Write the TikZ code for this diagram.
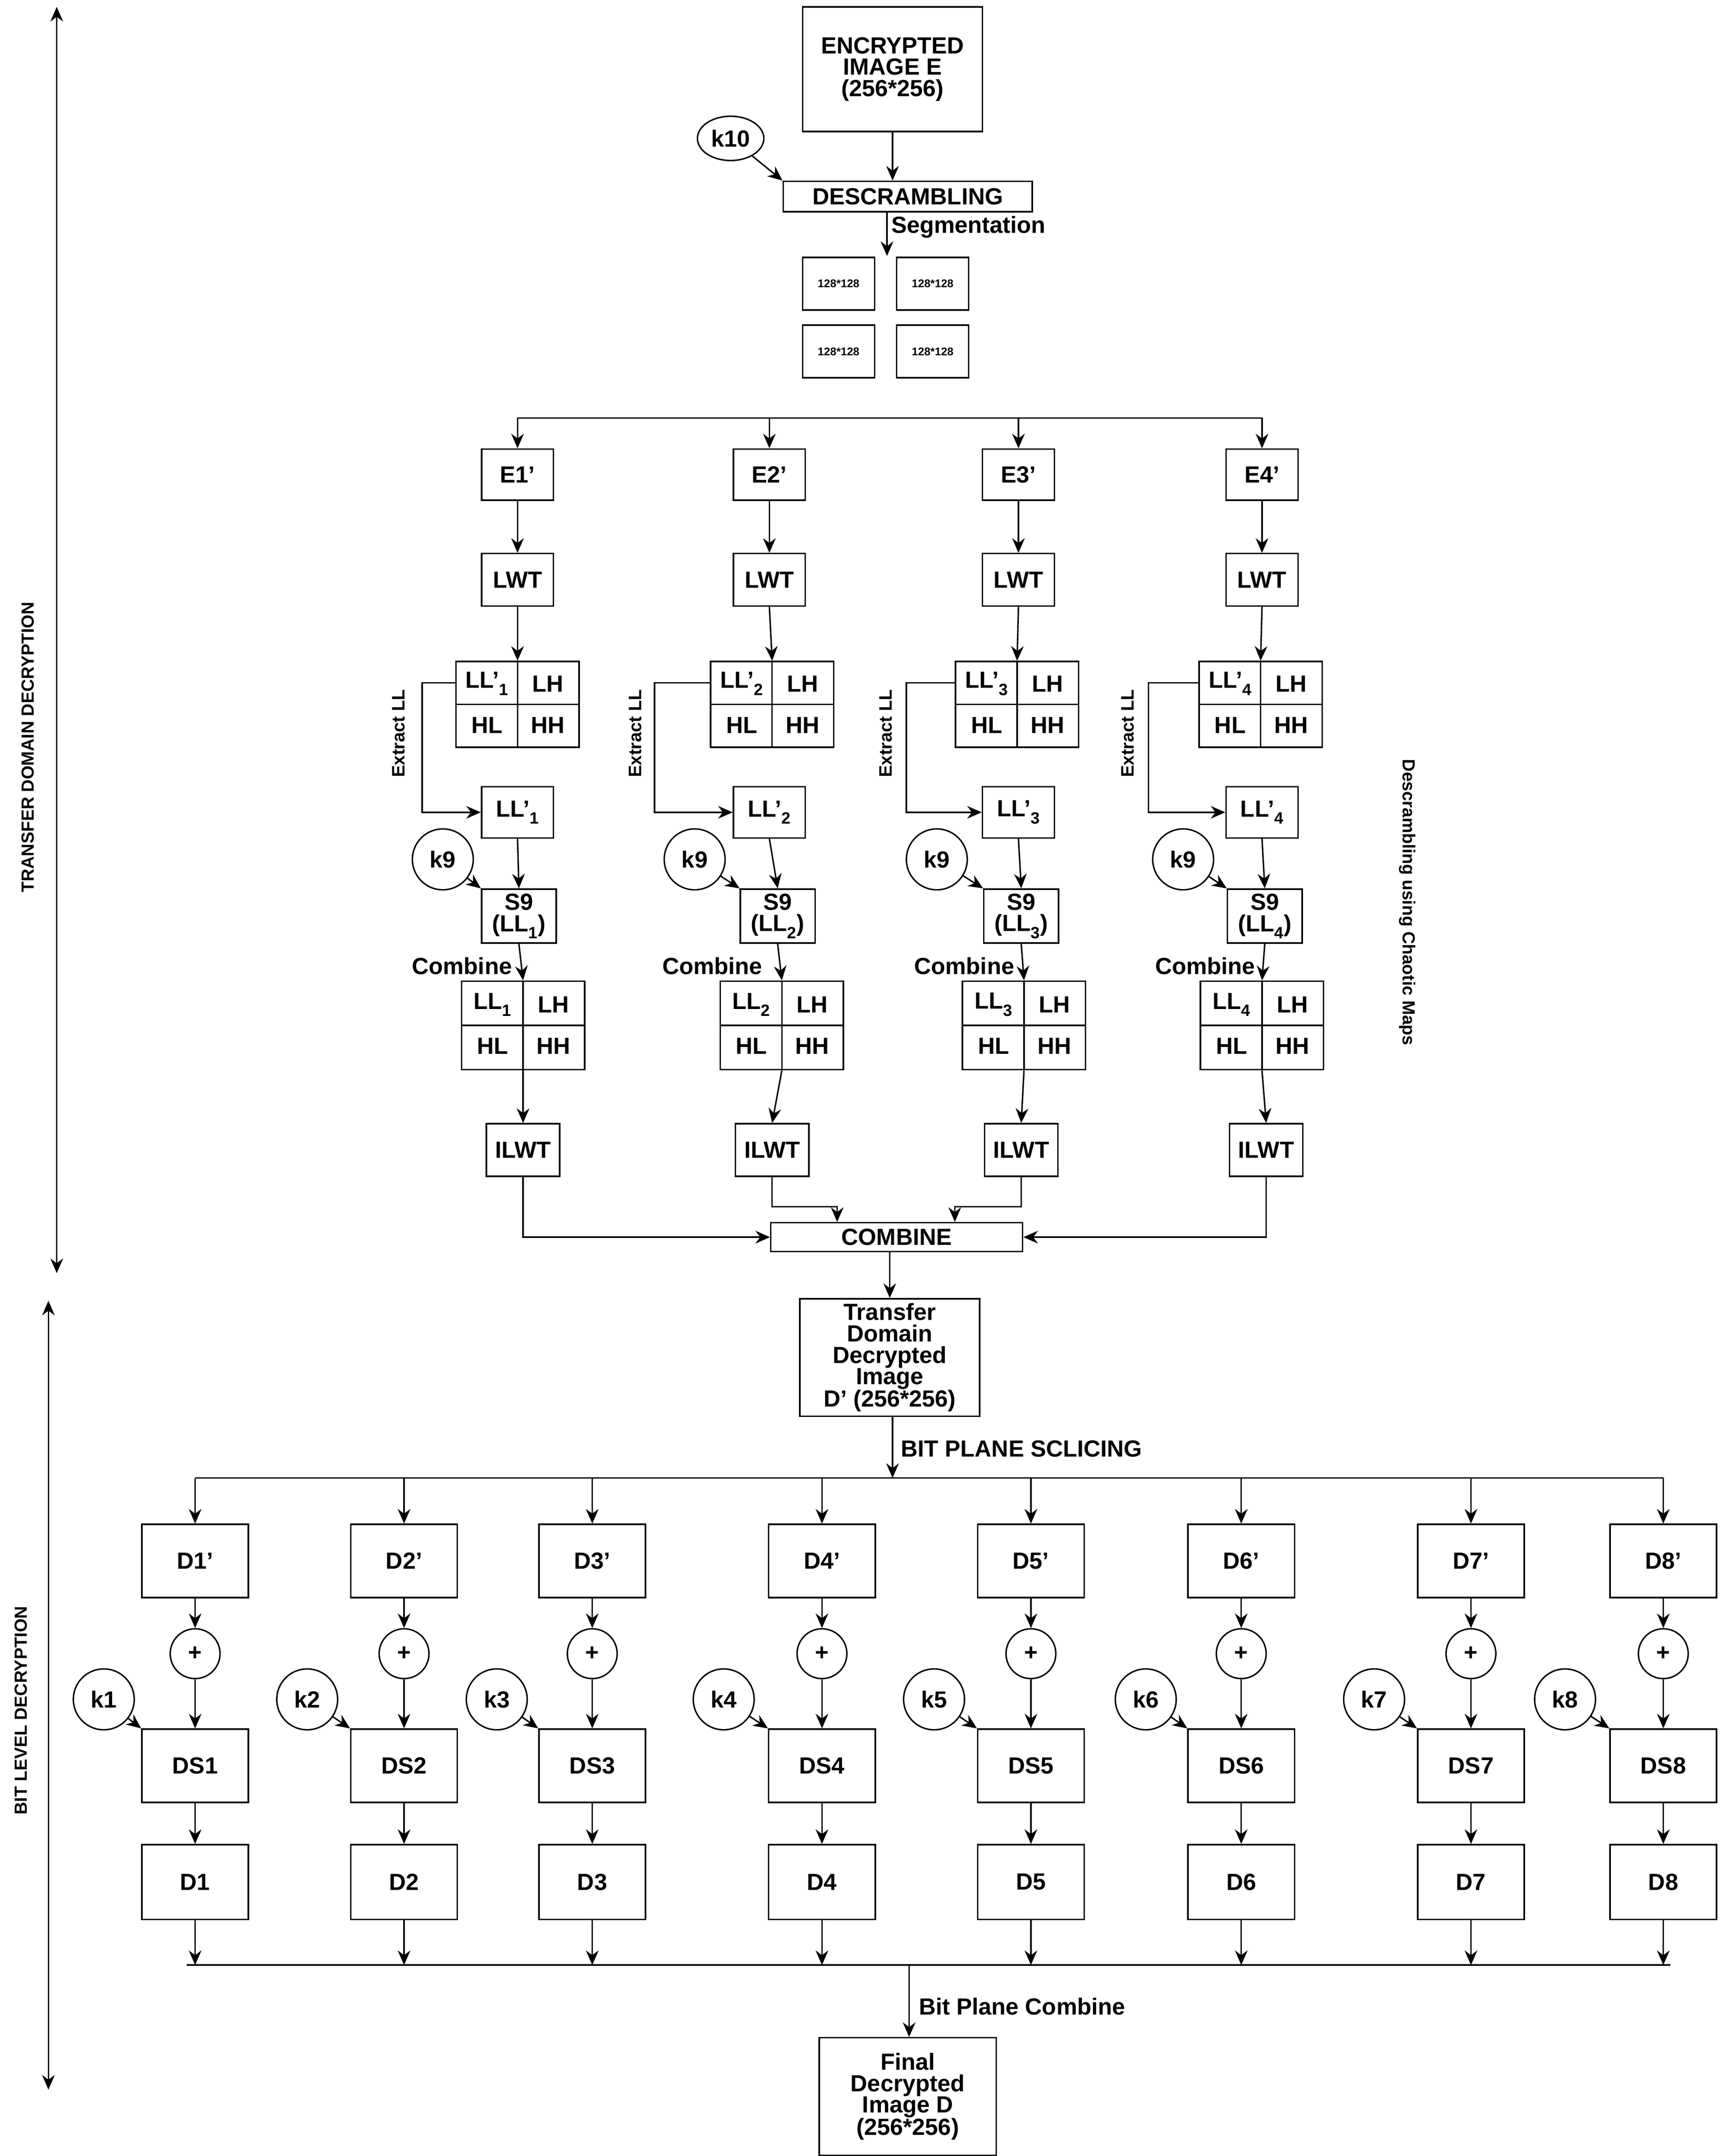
\documentclass[tikz,border=0pt]{standalone}
\usepackage{fontspec}
\setmainfont{Liberation Sans}[Ligatures=TeX]
\usetikzlibrary{arrows.meta,shapes.geometric}
\tikzset{
  every node/.style={font=\bfseries\fontsize{48}{44}\selectfont},
  bx/.style={draw, line width=3pt, align=center, inner sep=0pt},
  ln/.style={line width=3pt},
  ar/.style={line width=3pt, -{Stealth[length=30pt,width=26pt]}},
  dar/.style={line width=3pt, {Stealth[length=30pt,width=26pt]}-{Stealth[length=30pt,width=26pt]}},
  kc/.style={draw, circle, line width=3pt, inner sep=0pt, minimum size=4.4cm},
  lbl/.style={inner sep=0pt},
  small/.style={font=\bfseries\fontsize{23}{26}\selectfont},
  side/.style={font=\bfseries\fontsize{36}{40}\selectfont, inner sep=0pt},
  ext/.style={font=\bfseries\fontsize{37}{40}\selectfont, inner sep=0pt, rotate=90},
}
\begin{document}
\begin{tikzpicture}[x=0.1cm,y=-0.1cm]
\useasboundingbox (0,0) rectangle (1245,1558);
% side arrows
\coordinate (a1) at (41,5); \coordinate (a2) at (41,920);
\coordinate (b1) at (35,940); \coordinate (b2) at (35,1510);
\draw[dar] (a1) -- (a2);
\draw[dar] (b1) -- (b2);
\node[side, rotate=90] (tl) at (20,540) {TRANSFER DOMAIN DECRYPTION};
\node[side, rotate=90] (bl) at (15,1236) {BIT LEVEL DECRYPTION};
\node[side, rotate=-90] (rl) at (1017,652) {Descrambling using Chaotic Maps};
% top
\node[bx, minimum width=13cm, minimum height=9cm] (enc) at (645,50) {ENCRYPTED\\IMAGE E\\(256*256)};
\node[draw, ellipse, line width=3pt, minimum width=4.8cm, minimum height=3.2cm, inner sep=0pt] (k10) at (528,100) {k10};
\node[bx, minimum width=18cm, minimum height=2.2cm] (des) at (656,142) {DESCRAMBLING};
\draw[ar] (enc.south) -- (des.north -| enc.south);
\draw[ar] (k10) -- (des.north west);
\coordinate (sg) at (641,185);
\draw[ar] (des.south -| sg) -- (sg);
\node[lbl, anchor=west] (seg) at (644,164) {Segmentation};
\node[bx, small, minimum width=5.2cm, minimum height=3.8cm] (s1) at (606,205) {128*128};
\node[bx, small, minimum width=5.2cm, minimum height=3.8cm] (s2) at (674,205) {128*128};
\node[bx, small, minimum width=5.2cm, minimum height=3.8cm] (s3) at (606,254) {128*128};
\node[bx, small, minimum width=5.2cm, minimum height=3.8cm] (s4) at (674,254) {128*128};
% bus
\coordinate (bL) at (374,302); \coordinate (bR) at (912,302);
\draw[ln] (bL) -- (bR);
\foreach \i/\c/\qa/\ex/\lx/\kx/\sx/\cx/\qb/\ix in {1/374/374/305/288/320/375/370/378/378, 2/556/558/473/459/502/562/551/565/558, 3/736/735/655/640/677/738/733/740/738, 4/912/911/830/815/855/914/907/912/915}{
  \node[bx, minimum width=5.2cm, minimum height=3.7cm] (E\i) at (\c,343) {E\i'};
  \node[bx, minimum width=5.2cm, minimum height=3.8cm] (W\i) at (\c,419) {LWT};
  \node[bx, minimum width=8.9cm, minimum height=6.2cm] (Q\i) at (\qa,509) {};
  \draw[ln] (Q\i.north) -- (Q\i.south); \draw[ln] (Q\i.west) -- (Q\i.east);
  \node[lbl] (Qa\i) at (\qa-22,494) {LL'\textsubscript{\i}};
  \node[lbl] (Qb\i) at (\qa+22,494) {LH};
  \node[lbl] (Qc\i) at (\qa-22,524) {HL};
  \node[lbl] (Qd\i) at (\qa+22,524) {HH};
  \node[bx, minimum width=5.2cm, minimum height=3.7cm] (L\i) at (\c,587) {LL'\textsubscript{\i}};
  \node[kc] (K\i) at (\kx,621) {k9};
  \node[bx, minimum width=5.4cm, minimum height=3.9cm] (S\i) at (\sx,662) {S9\\(LL\textsubscript{\i})};
  \node[bx, minimum width=8.9cm, minimum height=6.4cm] (R\i) at (\qb,741) {};
  \draw[ln] (R\i.north) -- (R\i.south); \draw[ln] (R\i.west) -- (R\i.east);
  \node[lbl] (Ra\i) at (\qb-22,726) {LL\textsubscript{\i}};
  \node[lbl] (Rb\i) at (\qb+22,726) {LH};
  \node[lbl] (Rc\i) at (\qb-22,756) {HL};
  \node[lbl] (Rd\i) at (\qb+22,756) {HH};
  \node[bx, minimum width=5.3cm, minimum height=3.8cm] (I\i) at (\ix,831) {ILWT};
  \node[ext] (X\i) at (\lx,530) {Extract LL};
  \node[lbl, anchor=east] (C\i) at (\cx,698) {Combine};
  \draw[ar] (E\i |- bL) -- (E\i.north);
  \draw[ar] (E\i.south) -- (W\i.north);
  \draw[ar] (W\i.south) -- (Q\i.north);
  \draw[ar] ([yshift=1.55cm]Q\i.west) -| (\ex,587) -- (L\i.west);
  \draw[ar] (L\i.south) -- (S\i.north);
  \draw[ar] (K\i) -- (S\i.north west);
  \draw[ar] (S\i.south) -- (R\i.north);
  \draw[ar] (R\i.south) -- (I\i.north);
}
\node[bx, minimum width=18.2cm, minimum height=2.1cm] (CB) at (648,894) {COMBINE};
\draw[ar] (I1.south) |- (CB.west);
\draw[ar] (I4.south) |- (CB.east);
\coordinate (c2) at (605,872); \coordinate (c3) at (690,872);
\draw[ar] (I2.south) |- (c2) -- (c2 |- CB.north);
\draw[ar] (I3.south) |- (c3) -- (c3 |- CB.north);
\node[bx, minimum width=13cm, minimum height=8.5cm] (T) at (643,981) {Transfer\\Domain\\Decrypted\\Image\\D' (256*256)};
\draw[ar] (CB.south -| T.north) -- (T.north);
% bit planes
\coordinate (pL) at (141,1068); \coordinate (pR) at (1202,1068);
\coordinate (pm) at (645,1068);
\draw[ln] (pL) -- (pR);
\draw[ar] (T.south -| pm) -- (pm);
\node[lbl, anchor=west] (bps) at (651,1047) {BIT PLANE SCLICING};
\coordinate (qL) at (135,1420); \coordinate (qR) at (1207,1420);
\coordinate (qm) at (657,1420);
\draw[ln] (qL) -- (qR);
\foreach \i/\x/\kx in {1/141/75, 2/292/222, 3/428/359, 4/594/523, 5/745/675, 6/897/828, 7/1063/993, 8/1202/1131}{
  \node[bx, minimum width=7.7cm, minimum height=5.3cm] (P\i) at (\x,1128) {D\i'};
  \node[kc, minimum size=3.6cm] (O\i) at (\x,1195) {+};
  \node[kc] (G\i) at (\kx,1228) {k\i};
  \node[bx, minimum width=7.7cm, minimum height=5.3cm] (DS\i) at (\x,1276) {DS\i};
  \node[bx, minimum width=7.7cm, minimum height=5.4cm] (D\i) at (\x,1360) {D\i};
  \draw[ar] (P\i |- pL) -- (P\i.north);
  \draw[ar] (P\i.south) -- (O\i.north);
  \draw[ar] (O\i.south) -- (DS\i.north);
  \draw[ar] (G\i) -- (DS\i.north west);
  \draw[ar] (DS\i.south) -- (D\i.north);
  \draw[ar] (D\i.south) -- (D\i |- qL);
}
\node[bx, minimum width=12.8cm, minimum height=8.5cm] (F) at (656,1515) {Final\\Decrypted\\Image D\\(256*256)};
\draw[ar] (qm) -- (F.north -| qm);
\node[lbl, anchor=west] (bpc) at (664,1450) {Bit Plane Combine};
\end{tikzpicture}
\end{document}
